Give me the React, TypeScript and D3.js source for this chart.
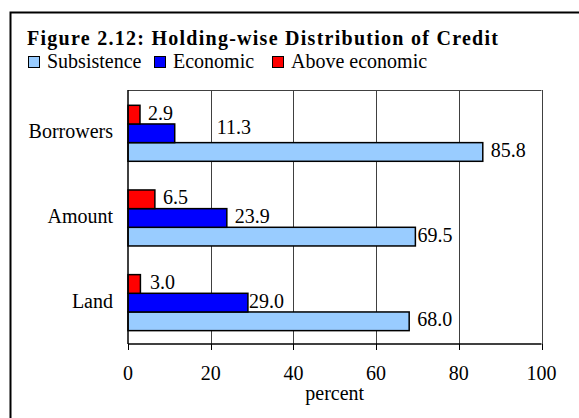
import React from "react";
import * as d3 from "d3";

const categories = ["Borrowers", "Amount", "Land"];
const seriesNames = ["Subsistence", "Economic", "Above economic"];
const subsistence = [85.8, 69.5, 68.0];
const economic = [11.3, 23.9, 29.0];
const aboveEconomic = [2.9, 6.5, 3.0];
const xTicks = [0, 20, 40, 60, 80, 100];
const seriesColors = ["#99CCFF", "#0000FF", "#FF0000"];

const W = 579;
const H = 418;
const FONT = "Liberation Serif, Times New Roman, serif";

export default function App() {
  const x = d3.scaleLinear().domain([0, 100]).range([128, 541.5]);
  const y = d3.scaleBand<string>().domain(categories).range([90, 344]).padding(0);
  const inner = d3
    .scaleBand<string>()
    .domain(["Above economic", "Economic", "Subsistence"])
    .range([0, 56])
    .padding(0);
  const innerOffset = 15.3;
  const seriesValues: Record<string, number[]> = {
    Subsistence: subsistence,
    Economic: economic,
    "Above economic": aboveEconomic,
  };
  const colorOf = d3.scaleOrdinal<string, string>().domain(seriesNames).range(seriesColors);

  // label nudges (dx, dy) for specific labels, as placed in the original
  const labelNudge: Record<string, [number, number]> = {
    "Borrowers|Economic": [42, -4],
    "Amount|Subsistence": [2, 0],
    "Land|Economic": [1, 0],
    "Land|Above economic": [9.5, 0],
  };

  const legendX = [28, 154, 272];
  const txt = { fontFamily: FONT };

  return (
    <svg width={W} height={H} style={{ position: "absolute", left: 0, top: 0, background: "#fff" }}>
      <rect x={0} y={0} width={W} height={H} fill="#fff" />
      <rect x={10.5} y={12.5} width={600} height={500} fill="none" stroke="#000" strokeWidth={2} />
      <text x={27} y={45} fontSize={20} fontWeight="bold" textLength={471} lengthAdjust="spacing" style={txt}>
        Figure 2.12: Holding-wise Distribution of Credit
      </text>
      {seriesNames.map((s, i) => (
        <g key={s}>
          <rect x={legendX[i] + 0.5} y={56.5} width={11} height={11} fill={colorOf(s)} stroke="#000" strokeWidth={1} />
          <text x={legendX[i] + 19} y={68} fontSize={20} style={txt}>
            {s}
          </text>
        </g>
      ))}
      {/* plot frame and gridlines */}
      <line x1={x(0)} x2={x(100)} y1={90.5} y2={90.5} stroke="#404040" strokeWidth={1} />
      {xTicks.slice(1).map((t) => (
        <line key={t} x1={Math.round(x(t)) + 0.5} x2={Math.round(x(t)) + 0.5} y1={90} y2={344} stroke="#404040" strokeWidth={1} />
      ))}
      {/* bars */}
      {categories.map((c, ci) =>
        seriesNames.map((s) => {
          const v = seriesValues[s][ci];
          const by = (y(c) as number) + innerOffset + (inner(s) as number);
          return (
            <rect
              key={c + s}
              x={x(0)}
              y={by}
              width={x(v) - x(0)}
              height={inner.bandwidth()}
              fill={colorOf(s)}
              stroke="#000"
              strokeWidth={1.5}
            />
          );
        })
      )}
      {/* value labels */}
      {categories.map((c, ci) =>
        seriesNames.map((s) => {
          const v = seriesValues[s][ci];
          const by = (y(c) as number) + innerOffset + (inner(s) as number);
          const nudge = labelNudge[c + "|" + s] || [8, 0];
          return (
            <text key={"l" + c + s} x={x(v) + nudge[0]} y={by + inner.bandwidth() / 2 + 5 + nudge[1]} fontSize={20} style={txt}>
              {v.toFixed(1)}
            </text>
          );
        })
      )}
      {/* axes */}
      <line x1={x(0)} x2={x(0)} y1={90} y2={344} stroke="#000" strokeWidth={1.5} />
      <line x1={x(0)} x2={x(100)} y1={344} y2={344} stroke="#000" strokeWidth={1.5} />
      {xTicks.map((t) => (
        <g key={"t" + t}>
          <line x1={Math.round(x(t)) + 0.5} x2={Math.round(x(t)) + 0.5} y1={344} y2={350} stroke="#000" strokeWidth={1} />
          <text x={x(t)} y={380} fontSize={20} textAnchor="middle" style={txt}>
            {t}
          </text>
        </g>
      ))}
      <text x={(x(0) + x(100)) / 2} y={400} fontSize={20} textAnchor="middle" style={txt}>
        percent
      </text>
      {categories.map((c) => (
        <text key={"c" + c} x={113} y={(y(c) as number) + y.bandwidth() / 2 + 6} fontSize={20} textAnchor="end" style={txt}>
          {c}
        </text>
      ))}
    </svg>
  );
}
